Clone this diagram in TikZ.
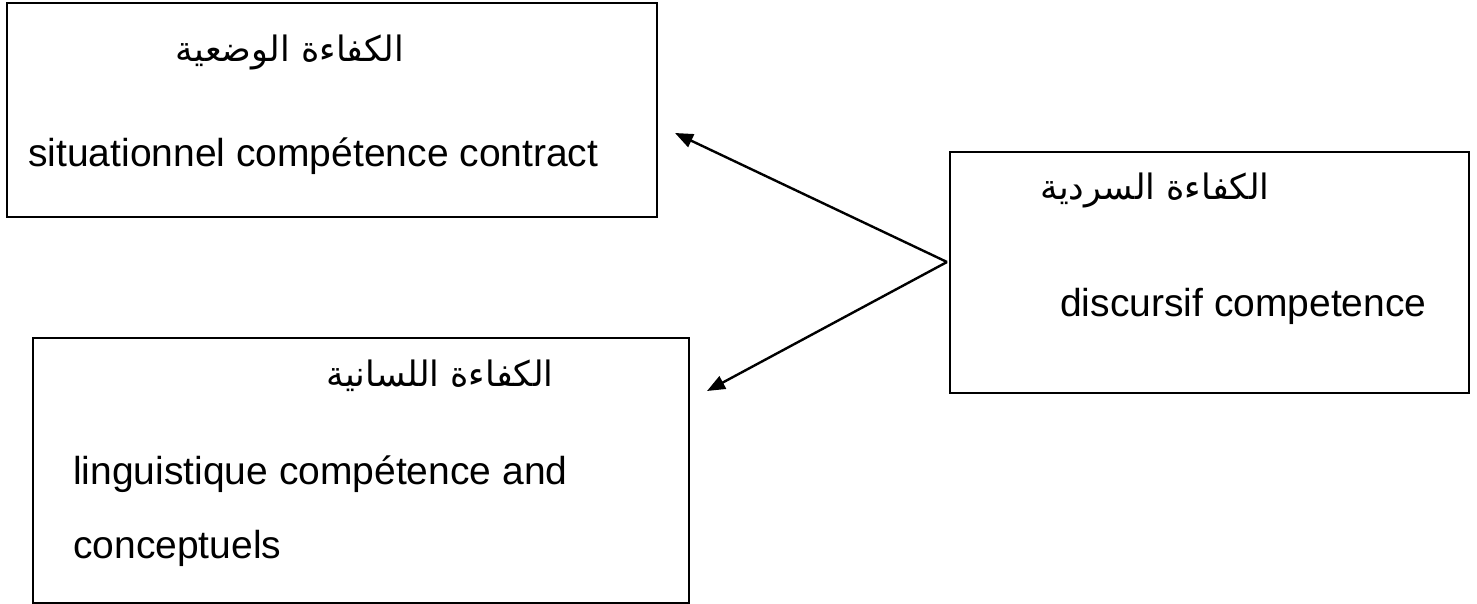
\documentclass[tikz,border=0pt]{standalone}
\usepackage{fontspec}
\setmainfont{Liberation Sans}
\newfontfamily\arabicfont[Script=Arabic]{DejaVu Sans}
\TeXXeTstate=1
\usetikzlibrary{positioning}
\usetikzlibrary{arrows.meta}

\begin{document}
\begin{tikzpicture}[x=0.5pt,y=-0.5pt,line width=1.2pt,
	box/.style={draw, rectangle, anchor=north west, inner sep=0pt},
	ar/.style={font=\arabicfont\fontsize{17.5}{21}\selectfont, inner sep=0pt},
	en/.style={anchor=west, inner sep=0pt, font=\fontsize{19.5}{23}\selectfont}]
	\useasboundingbox (0,0) rectangle (1477,604);
	% boxes
	\node (c1) [box, minimum width=325pt, minimum height=107pt] at (6,2) {};
	\node (c2) [box, minimum width=259.5pt, minimum height=120.5pt] at (949,151) {};
	\node (c3) [box, minimum width=328pt, minimum height=132.5pt] at (32,337) {};
	
	% texts
	\node (c1a) [ar] at (290,52) {\beginR الكفاءة الوضعية\endR};
	\node (c1e) [en] at (27,156) {situationnel compétence contract};
	\node (c2a) [ar] at (1155,190) {\beginR الكفاءة السردية\endR};
	\node (c2e) [en] at (1059,306) {discursif competence};
	\node (c3a) [ar] at (440,376) {\beginR الكفاءة اللسانية\endR};
	\node (c3e) [en] at (72,474) {linguistique compétence and};
	\node (c3f) [en] at (72,548) {conceptuels};
	
	\coordinate (fork) at (947,262);
	\coordinate (tip1) at (675,133);
	\coordinate (tip3) at (707,391);
	\draw [-{Triangle[length=9pt,width=7pt]}] (fork) -- (tip1);
	\draw [-{Triangle[length=9pt,width=7pt]}] (fork) -- (tip3);
\end{tikzpicture}
\end{document}
